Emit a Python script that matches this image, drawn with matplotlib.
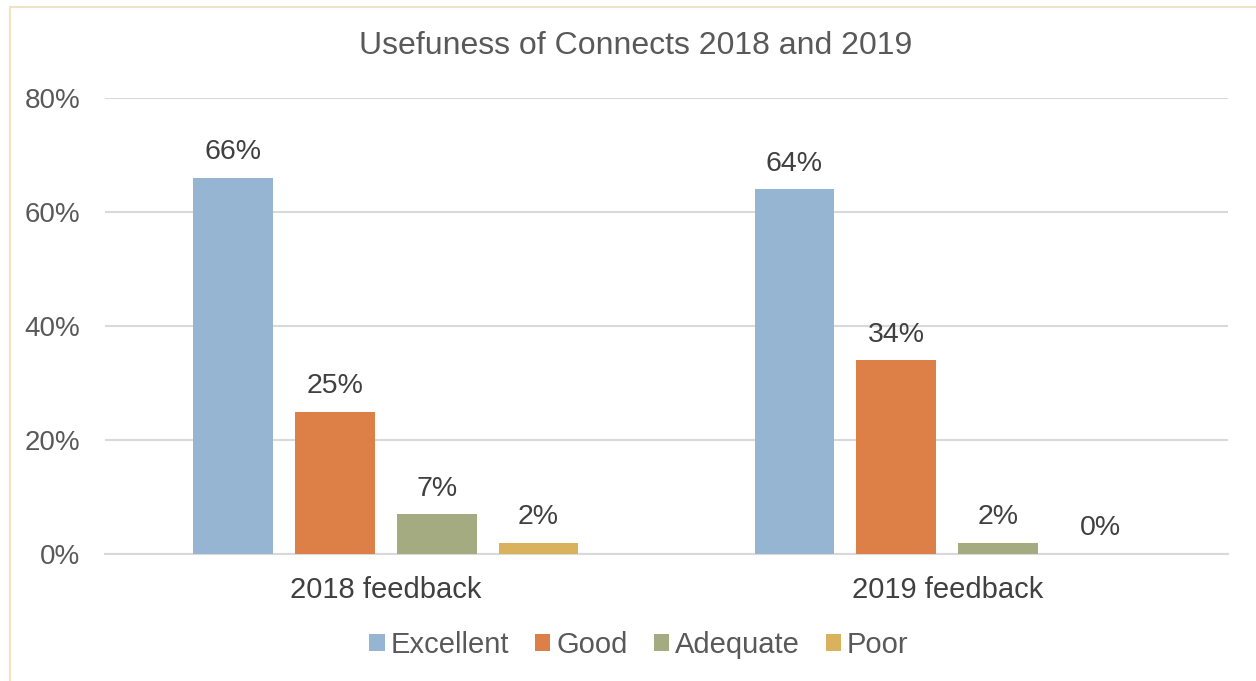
import matplotlib.pyplot as plt
import numpy as np
from matplotlib.patches import Rectangle

plt.rcParams['font.family'] = ['Liberation Sans', 'DejaVu Sans']

categories = ['2018 feedback', '2019 feedback']
series = ['Excellent', 'Good', 'Adequate', 'Poor']
values = {
    'Excellent': [66, 64],
    'Good': [25, 34],
    'Adequate': [7, 2],
    'Poor': [2, 0],
}
colors = ['#95B5D3', '#DD8048', '#A4AB80', '#D9B25D']
yticks = [0, 20, 40, 60, 80]

fig = plt.figure(figsize=(12.56, 6.81), dpi=100)
ax = fig.add_axes([105/1256, 1-554/681, 1123/1256, 456/681])

x = np.arange(len(categories))
width = 0.142
step = 0.1815
for i, name in enumerate(series):
    pos = x + (i - 1.5) * step
    bars = ax.bar(pos, values[name], width, color=colors[i], label=name, zorder=3)
    for b, v in zip(bars, values[name]):
        ax.text(b.get_x() + b.get_width()/2, v + 2.2, '{}%'.format(v),
                ha='center', va='bottom', fontsize=20.5, color='#404040')

ax.set_xlim(-0.5, 1.5)
ax.set_ylim(0, 80)
ax.set_yticks(yticks)
ax.set_yticklabels(['{}%'.format(t) for t in yticks], fontsize=20, color='#595959')
ax.set_xticks(x)
ax.set_xticklabels(categories, fontsize=21, color='#404040')
ax.tick_params(axis='x', length=0, pad=16)
ax.tick_params(axis='y', length=0, pad=18)
ax.grid(axis='y', color='#D9D9D9', linewidth=1.5, zorder=0)
for s in ['top', 'right', 'left']:
    ax.spines[s].set_visible(False)
ax.spines['bottom'].set_color('#D9D9D9')
ax.spines['bottom'].set_linewidth(1.5)

fig.text(636/1256, 1-46/681, 'Usefuness of Connects 2018 and 2019', ha='center', va='center',
         fontsize=23, color='#595959')

leg = fig.legend(loc='center', bbox_to_anchor=(639/1256, 1-645/681), ncol=4, frameon=False,
                 fontsize=21, handlelength=0.52, handleheight=0.52, handletextpad=0.2,
                 columnspacing=0.9)
for t in leg.get_texts():
    t.set_color('#595959')

fig.patches.append(Rectangle((10/1256, -0.1), 1.2, 1-7/681+0.1, transform=fig.transFigure,
                             fill=False, edgecolor='#F0E2C4', linewidth=1.5))

fig.savefig('out.png', dpi=100)
